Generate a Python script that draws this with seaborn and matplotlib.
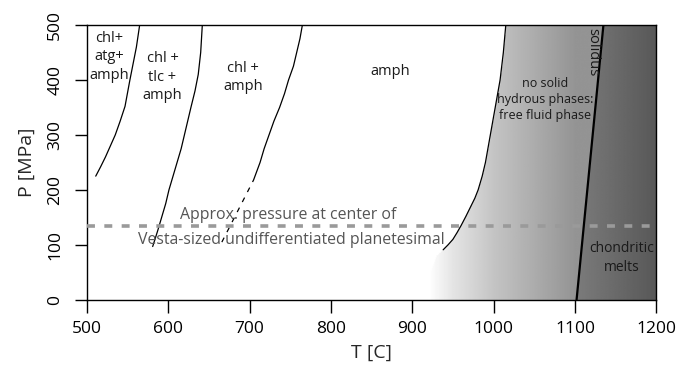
import numpy as np
import pandas as pd
import matplotlib
matplotlib.use("Agg")
import matplotlib.pyplot as plt
import seaborn as sns

sns.set_theme(style="white")
plt.rcParams["font.family"] = ["Open Sans", "DejaVu Sans"]

# phase boundaries (T in C, P in MPa)
atg_T = [511, 517, 523, 529, 535, 541, 547, 553, 557, 561, 565]
atg_P = [225, 242, 260, 280, 300, 325, 352, 400, 430, 460, 500]
tlc_T = [581, 587, 592, 597, 601, 606, 611, 616, 620, 628, 633, 637, 640, 642]
tlc_P = [97, 125, 150, 175, 200, 225, 250, 275, 300, 350, 380, 410, 450, 500]
chl_T = [705, 709, 713, 718, 724, 730, 737, 743, 748, 754, 758, 762, 765]
chl_P = [218, 234, 250, 275, 300, 325, 350, 375, 400, 425, 450, 475, 500]
chl_dash_T = [666, 705]
chl_dash_P = [105, 218]
amph_T = [938, 944, 950, 955, 960, 966, 972, 977, 981, 986, 990, 996,
          1002, 1008, 1012, 1015]
amph_P = [91, 100, 110, 122, 135, 152, 170, 185, 200, 225, 250, 300,
          350, 400, 450, 500]
solidus_T = [1102, 1135]
solidus_P = [0, 500]

# background shading (grey level vs temperature)
edge_P = [0, 50, 80] + amph_P
edge_T = [918, 922, 930] + amph_T
shade_T = [920, 950, 1000, 1050, 1100]
shade_grey = [255, 228, 196, 172, 148]
melt_T = [1100, 1200]
melt_grey = [124, 88]

center_P = 135

fig, ax = plt.subplots(figsize=(6.78, 3.67), dpi=100)
fig.subplots_adjust(left=0.128, right=0.968, bottom=0.183, top=0.932)

# build the shaded background image
tt, pp = np.meshgrid(np.linspace(500, 1200, 701), np.linspace(0, 500, 251))
edge = np.interp(pp, edge_P, edge_T)
sol = np.interp(pp, solidus_P, solidus_T)
img = np.where(tt < edge, 255.0,
               np.where(tt < sol, np.interp(tt, shade_T, shade_grey),
                        np.interp(tt, melt_T, melt_grey)))
ax.imshow(img, extent=[500, 1200, 0, 500], origin="lower", aspect="auto",
          cmap="gray", vmin=0, vmax=255, zorder=0, interpolation="bilinear")

curves = [(atg_T, atg_P), (tlc_T, tlc_P), (chl_T, chl_P), (amph_T, amph_P)]
for T, P in curves:
    df = pd.DataFrame({"T": T, "P": P})
    sns.lineplot(data=df, x="T", y="P", sort=False, color="black", lw=0.9, ax=ax)
sns.lineplot(x=chl_dash_T, y=chl_dash_P, sort=False, color="black", lw=0.9,
             linestyle=(0, (4, 5)), ax=ax)
sns.lineplot(x=solidus_T, y=solidus_P, sort=False, color="black", lw=1.6, ax=ax)

ax.axhline(center_P, color="#9a9a9a", lw=2.6, linestyle=(0, (2.2, 2.6)), zorder=3)

txt = dict(ha="center", va="center", fontsize=10.5, color="#1a1a1a", linespacing=1.3)
ax.text(528, 442, "chl+\natg+\namph", **txt)
ax.text(593, 405, "chl +\ntlc +\namph", **txt)
ax.text(692, 405, "chl +\namph", **txt)
ax.text(873, 416, "amph", **txt)
ax.text(1063, 365, "no solid\nhydrous phases:\nfree fluid phase", ha="center",
        va="center", fontsize=9, color="#1a1a1a", linespacing=1.3)
ax.text(1158, 76, "chondritic\nmelts", ha="center", va="center", fontsize=10,
        color="#1a1a1a", linespacing=1.3)
ax.text(1122, 450, "solidus", rotation=-90, **txt)
ax.text(748, 155, "Approx. pressure at center of", ha="center", va="center",
        fontsize=11.4, color="#555555")
ax.text(751, 109, "Vesta-sized undifferentiated planetesimal", ha="center",
        va="center", fontsize=11.4, color="#555555")

ax.set_xlim(500, 1200)
ax.set_ylim(0, 500)
ax.set_xticks(range(500, 1201, 100))
ax.set_yticks(range(0, 501, 100))
ax.tick_params(axis="both", direction="out", length=9, width=1, labelsize=12.5,
               colors="black", bottom=True, left=True)
ax.tick_params(axis="x", pad=6)
ax.tick_params(axis="y", pad=8)
plt.setp(ax.get_yticklabels(), rotation=90, va="center")
ax.set_xlabel("T [C]", fontsize=14, labelpad=5)
ax.set_ylabel("P [MPa]", fontsize=14, labelpad=8)
for s in ax.spines.values():
    s.set_color("black")
    s.set_linewidth(1)
fig.savefig("out.png", dpi=100)
